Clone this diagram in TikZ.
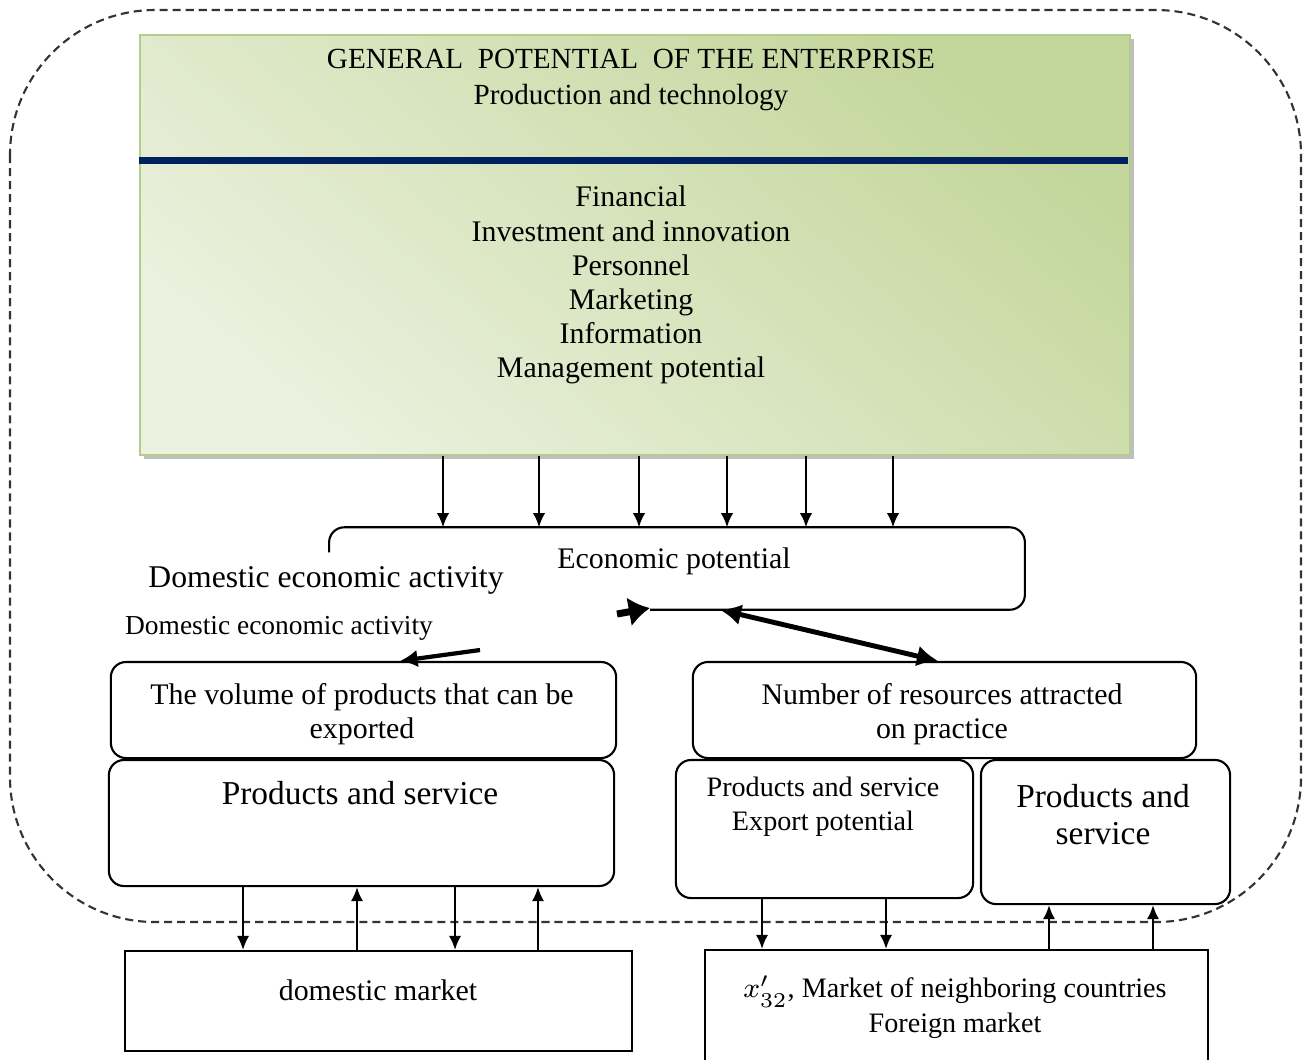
\documentclass[tikz,border=0pt]{standalone}
\usepackage{fontspec}
\setmainfont{Liberation Serif}
\usetikzlibrary{arrows.meta,positioning}
\definecolor{greenlight}{HTML}{EBF1DE}
\definecolor{greenmid}{HTML}{E2EBD2}
\definecolor{greendark}{HTML}{C3D69B}
\definecolor{greenedge}{HTML}{B5CC8A}
\definecolor{navyline}{HTML}{002060}
\tikzset{
  box/.style={draw, line width=0.6pt, rounded corners=4.3pt},
  market/.style={draw, line width=0.6pt},
  txt/.style={align=center, inner sep=0pt, font=\fontsize{8.5}{9.7}\selectfont},
  bigtxt/.style={align=center, inner sep=0pt, font=\fontsize{9.5}{10.5}\selectfont},
  arr/.style={-{Latex[length=4pt,width=3.5pt]}, line width=0.6pt},
  outline/.style={dash pattern=on 2.3pt off 1.4pt, line width=0.6pt, black!80},
}
\begin{document}
\begin{tikzpicture}[x=0.01cm, y=-0.01cm]
  \useasboundingbox (0,0) rectangle (1307,1059);
  % dashed frame round the enterprise
  \draw[outline, rounded corners=1.45cm] (10,10) rectangle (1301,922);

  % general potential
  \fill[black!25] (144,39) rectangle (1134,459);
  \node[draw=greenedge, line width=0.6pt, top color=greendark, middle color=greenmid, bottom color=greenlight,
        shading angle=-40, minimum width=9.9cm, minimum height=4.2cm] (gen) at (635,245) {};
  \draw[navyline, line width=2pt] (gen.west |- 0,160) -- ([xshift=-1pt]gen.east |- 0,160);
  \node[txt, font=\fontsize{8.3}{10}\selectfont] (genhead) at (631,80)
    {GENERAL\ \ POTENTIAL\ \ OF THE ENTERPRISE\\Production and technology};
  \node[txt] (genlist) at (631,285)
    {Financial\\Investment and innovation\\Personnel\\Marketing\\Information\\Management potential};

  % economic potential
  \node[minimum width=6.94cm, minimum height=0.81cm, inner sep=0pt] (econ) at (677,568.5) {};
  \coordinate (gap) at (650,608);
  \draw[line width=0.6pt, rounded corners=4.3pt] ([yshift=-0.25cm]econ.north west) -- (econ.north west)
    -- (econ.north east) -- (econ.south east) -- (econ.south -| gap);
  \node[txt] (econtxt) at (674,561) {Economic potential};
  \foreach \x in {443,539,639,727,806,893}
    \draw[arr] (gen.south -| \x,0) -- (econ.north -| \x,0);

  \node[inner sep=0pt, font=\fontsize{9}{10}\selectfont] (domact) at (326,580) {Domestic economic activity};
  \node[txt, font=\fontsize{7.8}{9}\selectfont] (domact2) at (279,628) {Domestic economic activity};

  % left branch
  \node[box, minimum width=5.05cm, minimum height=0.96cm] (vol) at (363.5,710) {};
  \node[txt] (voltxt) at (362,714) {The volume of products that can be\\exported};
  \node[box, minimum width=5.05cm, minimum height=1.26cm] (prodL) at (361.5,823) {};
  \node[bigtxt] (prodLtxt) at (360,793) {Products and service};
  \node[market, minimum width=5.07cm, minimum height=1cm] (dom) at (378.5,1001) {};
  \node[txt] (domtxt) at (378,990) {domestic market};

  % right branch
  \node[box, minimum width=5.03cm, minimum height=0.96cm] (res) at (944.5,710) {};
  \node[txt] (restxt) at (942,714) {Number of resources attracted\\on practice};
  \node[box, minimum width=2.97cm, minimum height=1.38cm] (expo) at (824.5,829) {};
  \node[txt, font=\fontsize{8}{9.7}\selectfont] (expotxt) at (823,807) {Products and service\\Export potential};
  \node[box, minimum width=2.49cm, minimum height=1.44cm] (prodR) at (1105.5,832) {};
  \node[bigtxt] (prodRtxt) at (1103,814.5) {Products and\\service};
  \node[market, minimum width=5.03cm, minimum height=1.2cm] (fmk) at (956.5,1010) {};
  \node[txt, font=\fontsize{8}{10}\selectfont] (fmktxt) at (955,1007.5)
    {$x'_{32}$, Market of neighboring countries\\Foreign market};

  % flows
  \draw[line width=2pt, -{Latex[length=6pt,width=8.5pt]}] (617,614) -- (gap);
  \draw[line width=1.4pt, {Latex[length=6pt,width=6pt]}-{Latex[length=6pt,width=6pt]}]
    (econ.south -| 720,0) -- (res.north -| 938,0);
  \draw[line width=1.2pt, -{Latex[length=5pt,width=5pt]}] (480,650) -- (vol.north -| 400,0);
  \foreach \x in {243,455}
    \draw[arr] (prodL.south -| \x,0) -- (dom.north -| \x,0);
  \foreach \x in {357,538}
    \draw[arr] (dom.north -| \x,0) -- (prodL.south -| \x,0);
  \foreach \x in {762,886}
    \draw[arr] (expo.south -| \x,0) -- (fmk.north -| \x,0);
  \foreach \x in {1049,1153}
    \draw[arr] (fmk.north -| \x,0) -- (prodR.south -| \x,0);
\end{tikzpicture}
\end{document}
